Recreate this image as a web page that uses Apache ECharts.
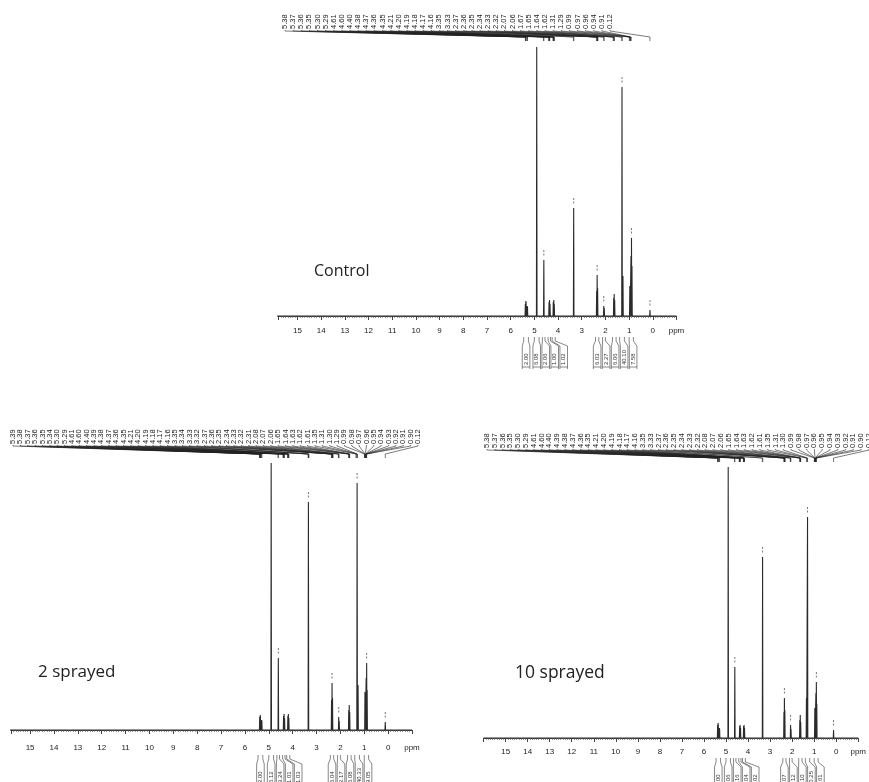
<!DOCTYPE html>
<html><head><meta charset="utf-8">
<script src="https://cdn.jsdelivr.net/npm/echarts@6.0.0/dist/echarts.min.js"></script>
<style>html,body{margin:0;padding:0;background:#fff}#c{width:869px;height:782px}</style>
</head><body><div id="c"></div><script>
// ---------- data (ppm, relative intensity) ----------
const ctrlPeaks = [[5.38,12],[5.36,15],[5.35,14],[5.30,10],[5.29,9],[4.90,269],[4.60,56],[4.38,14],[4.36,16],[4.34,12],[4.20,14],[4.18,16],[4.16,12],[3.34,108],[2.37,25],[2.35,41],[2.33,28],[2.07,10],[2.05,8],[1.65,18],[1.63,22],[1.61,16],[1.30,229],[1.26,40],[0.97,30],[0.92,60],[0.90,78],[0.88,50],[0.12,6]];
const spray2Peaks = [[5.38,13],[5.36,15],[5.35,14],[5.30,10],[5.29,9],[4.90,267],[4.60,72],[4.38,14],[4.36,16],[4.34,12],[4.20,14],[4.18,16],[4.16,12],[3.34,228],[2.37,30],[2.35,47],[2.33,32],[2.07,13],[2.05,9],[1.65,20],[1.63,25],[1.61,18],[1.30,247],[1.26,45],[0.97,38],[0.92,52],[0.90,67],[0.88,40],[0.12,8]];
const spray10Peaks = [[5.38,13],[5.36,15],[5.35,14],[5.30,10],[5.29,9],[4.90,271],[4.60,71],[4.38,12],[4.36,13],[4.34,10],[4.20,12],[4.18,13],[4.16,10],[3.34,181],[2.37,26],[2.35,40],[2.33,28],[2.07,13],[2.05,9],[1.65,18],[1.63,23],[1.61,16],[1.35,40],[1.30,221],[0.97,30],[0.92,45],[0.90,56],[0.88,34],[0.12,8]];

// peaks that carry a small peak-pick marker above their top
const markedPeaks = [4.60, 3.34, 2.35, 2.07, 1.30, 0.90, 0.12];

const ctrlLabels = ['5.38','5.37','5.36','5.35','5.30','5.29','4.61','4.60','4.40','4.38','4.37','4.36','4.35','4.21','4.20','4.19','4.18','4.17','4.16','3.35','3.33','2.37','2.36','2.35','2.34','2.33','2.32','2.07','2.06','1.67','1.65','1.64','1.62','1.31','1.29','0.99','0.97','0.96','0.94','0.91','0.12'];
const spray2Labels = ['5.39','5.38','5.37','5.36','5.35','5.34','5.30','5.29','4.61','4.60','4.40','4.39','4.38','4.37','4.36','4.35','4.21','4.20','4.19','4.18','4.17','4.16','3.35','3.34','3.33','3.32','2.37','2.36','2.35','2.34','2.33','2.32','2.31','2.08','2.07','2.06','1.65','1.64','1.63','1.62','1.61','1.35','1.31','1.30','1.29','0.99','0.98','0.97','0.96','0.95','0.94','0.93','0.92','0.91','0.90','0.12'];
const spray10Labels = ['5.38','5.37','5.36','5.35','5.30','5.29','4.61','4.60','4.40','4.39','4.38','4.37','4.36','4.35','4.21','4.20','4.19','4.18','4.17','4.16','3.35','3.33','2.37','2.36','2.35','2.34','2.33','2.32','2.08','2.07','2.06','1.65','1.64','1.63','1.62','1.61','1.35','1.31','1.30','0.99','0.98','0.97','0.96','0.95','0.94','0.93','0.92','0.91','0.90','0.12'];

const intRegions = [[5.45,5.25],[5.0,4.8],[4.66,4.55],[4.42,4.32],[4.25,4.12],[2.42,2.28],[2.12,2.0],[1.7,1.55],[1.4,1.2],[1.0,0.82]];
const ctrlIntegrals = ['2.00','6.08','2.06','1.00','1.02','6.03','2.27','6.06','40.10','7.58'];
const spray2Integrals = ['2.00','6.12','3.24','1.01','1.03','6.04','2.17','6.08','40.33','9.05'];
const spray10Integrals = ['2.00','6.06','2.16','1.04','1.02','6.07','2.12','6.10','40.25','8.61'];

const titles = ['Control','2 sprayed','10 sprayed'];

// ---------- layout ----------
const panels = [
  {grid:{left:278.5,width:398,top:47,height:275}, ymin:-6, ymax:269, xmax:15.8,
   lab:{x0:285,x1:610,tb:29,y1:31,y2:37,y3:41}, intY:337, title:{x:314,y:263,size:16}},
  {grid:{left:11,width:401,top:463,height:276}, ymin:-9, ymax:267, xmax:15.8,
   lab:{x0:13,x1:418,tb:444,y1:446,y2:454,y3:458}, intY:755, title:{x:38,y:664,size:17}},
  {grid:{left:483.6,width:380.8,top:467,height:276}, ymin:-5, ymax:271, xmax:16,
   lab:{x0:487,x1:869,tb:448,y1:450,y2:458,y3:462}, intY:758, title:{x:515,y:664,size:17.5}}
];
const peaksList = [ctrlPeaks, spray2Peaks, spray10Peaks];
const labelsList = [ctrlLabels, spray2Labels, spray10Labels];
const integralsList = [ctrlIntegrals, spray2Integrals, spray10Integrals];
const INK = '#2a2a2a';
const HW = 0.012;

function spectrumData(peaks){
  const s = peaks.slice().sort((a,b)=>b[0]-a[0]);
  const pts = [[16,0]];
  s.forEach(([p,h])=>{pts.push([p+HW,0],[p,h],[p-HW,0]);});
  pts.push([-1,0]);
  return pts;
}
function heightAt(peaks, ppm){
  let best=peaks[0]; peaks.forEach(p=>{ if(Math.abs(p[0]-ppm)<Math.abs(best[0]-ppm)) best=p; });
  return best[1];
}

const grids=[], xAxes=[], yAxes=[], series=[], graphics=[];
panels.forEach((P,gi)=>{
  const peaks = peaksList[gi];
  grids.push(Object.assign({containLabel:false}, P.grid));
  xAxes.push({type:'value', gridIndex:gi, inverse:true, min:-1, max:P.xmax, interval:1,
    axisLine:{lineStyle:{color:'#444',width:1}},
    axisTick:{length:4,lineStyle:{color:'#444',width:1}},
    minorTick:{show:true,splitNumber:10,length:2,lineStyle:{color:'#777',width:0.8}},
    splitLine:{show:false}, minorSplitLine:{show:false},
    axisLabel:{fontSize:8,color:'#222',margin:5,fontFamily:'Liberation Sans',showMaxLabel:false,
      formatter:v=> v===-1?'ppm':(v>15.5?'':String(v))}});
  yAxes.push({type:'value', gridIndex:gi, min:P.ymin, max:P.ymax, show:false});
  series.push({type:'line', xAxisIndex:gi, yAxisIndex:gi, data:spectrumData(peaks),
    showSymbol:false, symbol:'none', lineStyle:{color:INK,width:1.1}, silent:true, animation:false, z:3});
  series.push({type:'custom', xAxisIndex:gi, yAxisIndex:gi, silent:true, animation:false, clip:false,
    data:markedPeaks.map(p=>[p, heightAt(peaks,p)]), encode:{x:0,y:1},
    renderItem:(params,api)=>{
      const pt=api.coord([api.value(0),api.value(1)]);
      return {type:'line',shape:{x1:pt[0],y1:pt[1]-10,x2:pt[0],y2:pt[1]-4},style:{stroke:'#555',lineWidth:0.8,lineDash:[2,1.5]}};
    }});
  const labels = labelsList[gi];
  const L = P.lab;
  const dx = (L.x1-L.x0)/(labels.length-1);
  series.push({type:'custom', xAxisIndex:gi, yAxisIndex:gi, silent:true, animation:false, clip:false,
    data:labels.map((t,i)=>[parseFloat(t),0,i]), encode:{x:0,y:1},
    renderItem:(params,api)=>{
      const i=api.value(2), px=api.coord([api.value(0),0])[0], lx=L.x0+i*dx;
      return {type:'group',children:[
        {type:'text',x:lx,y:L.tb,rotation:Math.PI/2,style:{text:labels[i],fontSize:7.5,fill:'#222',align:'left',verticalAlign:'middle',fontFamily:'Liberation Sans Narrow, Liberation Sans'}},
        {type:'polyline',shape:{points:[[lx,L.tb+1],[lx,L.y1],[px,L.y2],[px,L.y3]]},style:{stroke:'#222',lineWidth:0.6,fill:null}}
      ]};
    }});
  const ints = integralsList[gi];
  series.push({type:'custom', xAxisIndex:gi, yAxisIndex:gi, silent:true, animation:false, clip:false,
    data:intRegions.map((r,i)=>[r[0],r[1],i]), encode:{x:[0,1],y:2},
    renderItem:(params,api)=>{
      const i=api.value(2);
      const cs = intRegions.map(r=>api.coord([(r[0]+r[1])/2,0])[0]);
      for(let k=1;k<cs.length;k++){ if(cs[k]-cs[k-1]<9) cs[k]=cs[k-1]+9; }
      const xa=api.coord([api.value(0),0])[0], xb=api.coord([api.value(1),0])[0];
      const c=cs[i], y=P.intY, w=3.8;
      return {type:'group',children:[
        {type:'polyline',shape:{points:[[xa,y],[xa,y+4],[c-w,y+9],[c-w,y+32]]},style:{stroke:'#555',lineWidth:0.7,fill:null}},
        {type:'polyline',shape:{points:[[xb,y],[xb,y+4],[c+w,y+9],[c+w,y+32]]},style:{stroke:'#555',lineWidth:0.7,fill:null}},
        {type:'line',shape:{x1:c-w,y1:y+30,x2:c+w,y2:y+30},style:{stroke:'#555',lineWidth:0.7}},
        {type:'text',x:c,y:y+28,rotation:Math.PI/2,style:{text:ints[i],fontSize:6,fill:'#333',align:'left',verticalAlign:'middle',fontFamily:'Liberation Sans'}}
      ]};
    }});
  graphics.push({type:'text',left:P.title.x,top:P.title.y,style:{text:titles[gi],fontSize:P.title.size,fill:'#222',fontFamily:'Open Sans'}});
});

const chart = echarts.init(document.getElementById('c'),null,{renderer:'canvas'});
chart.setOption({animation:false, backgroundColor:'#fff', grid:grids, xAxis:xAxes, yAxis:yAxes, series:series, graphic:graphics});
</script></body></html>
